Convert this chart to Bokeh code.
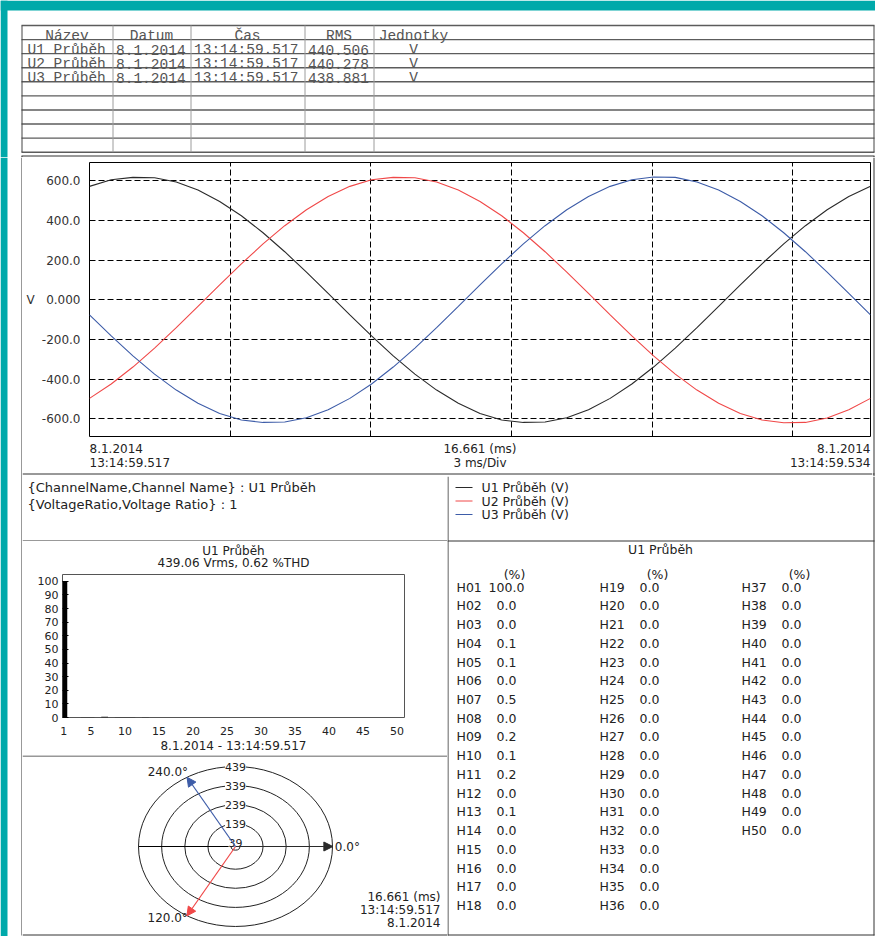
from bokeh.plotting import figure
from bokeh.layouts import row, column
from bokeh.models import Range1d, FixedTicker, Grid, ColumnDataSource, Arrow, NormalHead, LabelSet
from bokeh.core.properties import value
from bokeh.embed import file_html
from bokeh.resources import INLINE
import math

# ---------------- data ----------------
t_ms = [0.000, 0.463, 0.926, 1.388, 1.851, 2.314, 2.777, 3.240, 3.702, 4.165,
        4.628, 5.091, 5.554, 6.017, 6.479, 6.942, 7.405, 7.868, 8.331, 8.793,
        9.256, 9.719, 10.182, 10.645, 11.107, 11.570, 12.033, 12.496, 12.959, 13.421,
        13.884, 14.347, 14.810, 15.273, 15.736, 16.198, 16.661]
u1_v = [572.6, 606.1, 618.0, 616.0, 594.8, 554.2, 496.7, 424.2, 338.7, 243.0,
        140.0, 32.5, -75.8, -181.9, -282.4, -374.3, -454.9, -521.7, -572.6, -606.1,
        -618.0, -616.0, -594.8, -554.2, -496.7, -424.2, -338.7, -243.0, -140.0, -32.5,
        75.8, 181.9, 282.4, 374.3, 454.9, 521.7, 572.6]
u2_v = [-496.7, -424.2, -338.7, -243.0, -140.0, -32.5, 75.8, 181.9, 282.4, 374.3,
        454.9, 521.7, 572.6, 606.1, 618.0, 616.0, 594.8, 554.2, 496.7, 424.2,
        338.7, 243.0, 140.0, 32.5, -75.8, -181.9, -282.4, -374.3, -454.9, -521.7,
        -572.6, -606.1, -620.0, -618.0, -596.0, -554.2, -496.7]
u3_v = [-75.8, -181.9, -282.4, -374.3, -454.9, -521.7, -572.6, -606.1, -618.0, -616.0,
        -594.8, -554.2, -496.7, -424.2, -338.7, -243.0, -140.0, -32.5, 75.8, 181.9,
        282.4, 374.3, 454.9, 521.7, 572.6, 606.1, 620.0, 618.0, 594.8, 554.2,
        496.7, 424.2, 338.7, 243.0, 140.0, 32.5, -75.8]

series_names = ["U1 Průběh", "U2 Průběh", "U3 Průběh"]
series_colors = ["#2a2a2a", "#f04848", "#3d5ca8"]
rec_date = "8.1.2014"
start_time = "13:14:59.517"
end_time = "13:14:59.534"
span_ms = 16.661
div_ms = 3
rms_v = [440.506, 440.278, 438.881]
unit = "V"
table_headers = ["Název", "Datum", "Čas", "RMS", "Jednotky"]
v_ticks = [-600, -400, -200, 0, 200, 400, 600]
v_tick_labels = ["-600.0", "-400.0", "-200.0", "0.000", "200.0", "400.0", "600.0"]

info_lines = ["{ChannelName,Channel Name} : U1 Průběh", "{VoltageRatio,Voltage Ratio} : 1"]

harm_order = list(range(1, 51))
harm_pct = [100.0, 0.0, 0.0, 0.1, 0.1, 0.0, 0.5, 0.0, 0.2, 0.1,
            0.2, 0.0, 0.1, 0.0, 0.0, 0.0, 0.0, 0.0, 0.0, 0.0,
            0.0, 0.0, 0.0, 0.0, 0.0, 0.0, 0.0, 0.0, 0.0, 0.0,
            0.0, 0.0, 0.0, 0.0, 0.0, 0.0, 0.0, 0.0, 0.0, 0.0,
            0.0, 0.0, 0.0, 0.0, 0.0, 0.0, 0.0, 0.0, 0.0, 0.0]
bar_x_ticks = [1, 5, 10, 15, 20, 25, 30, 35, 40, 45, 50]
bar_y_ticks = [0, 10, 20, 30, 40, 50, 60, 70, 80, 90, 100]
u1_vrms = 439.06
u1_thd = 0.62

phasor_deg = [0.0, 120.0, 240.0]
ring_vals = [439, 339, 239, 139, 39]

# ---------------- style ----------------
SANS = "DejaVu Sans"
MONO = "Liberation Mono"
INK = "#222222"
RULE = "#333333"
TEAL = "#00a9aa"
W, H = 875, 936


def no_align(p):
    try:
        p.frame_align = False
    except Exception:
        pass
    return p


def pixfig(x0, x1, y0, y1):
    p = figure(frame_width=x1 - x0, frame_height=y1 - y0,
               x_range=Range1d(x0, x1), y_range=Range1d(y1, y0),
               x_axis_type=None, y_axis_type=None,
               toolbar_location=None, output_backend="svg",
               min_border=0, outline_line_color=None)
    return no_align(p)


def segs(p, xs0, ys0, xs1, ys1, color=RULE, width=1.0, **kw):
    p.segment(x0=xs0, y0=ys0, x1=xs1, y1=ys1, line_color=color, line_width=width, **kw)


def texts(p, xs, ys, labels, size="12px", align="left", baseline="middle",
          font=SANS, color=INK, **kw):
    p.text(x=xs, y=ys, text=labels, text_font=value(font), text_font_size=value(size),
           text_align=align, text_baseline=baseline, text_color=color, **kw)


# ---------------- top table ----------------
tab = pixfig(0, W, 0, 157)
tab.quad(left=[0, 0], right=[W, 7], top=[0, 0], bottom=[10, 157], fill_color=TEAL, line_color=None)
TX0, TX1 = 21, 873
TY0, ROW_H, N_LINES = 25, 14.08, 10
col_left = [21, 112, 190, 304, 373]
row_y = [TY0 + i * ROW_H for i in range(N_LINES)]
segs(tab, [TX0] * N_LINES, row_y, [TX1 + 1] * N_LINES, row_y, color="#5c5c5c", width=1.4)
inner = [c + 0.5 for c in col_left[1:]]
segs(tab, inner, [TY0] * len(inner), inner, [row_y[-1]] * len(inner), color="#9c9c9c", width=1)
segs(tab, [TX0 + 0.5, TX1 + 0.5], [TY0, TY0], [TX0 + 0.5, TX1 + 0.5], [row_y[-1], row_y[-1]],
     color="#444444", width=1)
segs(tab, [TX0], [155.5], [TX1 + 1], [155.5], color=RULE)
segs(tab, [TX0 + 0.5, TX1 + 0.5], [155.5, 155.5], [TX0 + 0.5, TX1 + 0.5], [157, 157], color=RULE)
unit_center = 413
hdr_x = [(col_left[i] + col_left[i + 1]) / 2 for i in range(4)]
texts(tab, hdr_x, [row_y[0] + 10] * 4, table_headers[:4], size="14.5px", align="center",
      baseline="alphabetic", font=MONO, color="#555555")
texts(tab, [unit_center], [row_y[0] + 10], table_headers[4:], size="14.5px", align="center",
      baseline="alphabetic", font=MONO, color="#555555")
for r, name in enumerate(series_names):
    yb = row_y[r + 1] + 10
    cells = [name, rec_date, start_time, f"{rms_v[r]:.3f}"]
    xs = [col_left[0] + 6] + [c + 3.5 for c in col_left[1:4]]
    texts(tab, xs, [yb] * 4, cells, size="14.5px", baseline="alphabetic", font=MONO, color="#555555")
    texts(tab, [unit_center], [yb], [unit], size="14.5px", align="center",
          baseline="alphabetic", font=MONO, color="#555555")

# ---------------- waveform ----------------
WL, WR, WT, WB = 89, 870, 162, 436     # frame edges (page px)
wave = figure(frame_width=WR - WL, frame_height=WB - WT,
              x_range=Range1d(0, span_ms), y_range=Range1d(-689, 693),
              x_axis_type=None, toolbar_location=None, output_backend="svg",
              min_border_left=WL - 22, min_border_right=872 - WR,
              min_border_top=WT - 157, min_border_bottom=437 - WB)
no_align(wave)
wave.outline_line_color = "black"
wave.outline_line_width = 1
ya = wave.yaxis[0]
ya.ticker = FixedTicker(ticks=v_ticks)
ya.major_label_overrides = dict(zip(v_ticks, v_tick_labels))
ya.major_tick_line_color = None
ya.minor_tick_line_color = None
ya.axis_line_color = None
ya.major_label_standoff = 3
ya.major_label_text_font = SANS
ya.major_label_text_font_size = "12px"
ya.major_label_text_color = "#333333"
ya.axis_label = unit
ya.axis_label_standoff = 4
ya.axis_label_text_font = SANS
ya.axis_label_text_font_size = "12px"
ya.axis_label_text_font_style = "normal"
ya.axis_label_text_color = "#333333"
try:
    ya.axis_label_orientation = "horizontal"
except Exception:
    pass
wave.ygrid.ticker = FixedTicker(ticks=v_ticks)
wave.ygrid.grid_line_color = "black"
wave.ygrid.grid_line_dash = "6 3"
wave.ygrid.grid_line_width = 1
grid_x = list(range(div_ms, int(span_ms) + 1, div_ms))
wave.add_layout(Grid(dimension=0, ticker=FixedTicker(ticks=grid_x), grid_line_color="black",
                     grid_line_dash="6 3", grid_line_width=1))
for vals, col in zip([u1_v, u2_v, u3_v], series_colors):
    wave.line(t_ms, vals, line_color=col, line_width=1.1)

wlab = pixfig(22, 872, 437, 476)
L1, L2 = 448, 462
mid = (WL + WR) / 2
texts(wlab, [WL, WL], [L1, L2], [rec_date, start_time])
texts(wlab, [mid, mid], [L1, L2], [f"{span_ms:.3f} (ms)", f"{div_ms} ms/Div"], align="center")
texts(wlab, [WR, WR], [L1, L2], [rec_date, end_time], align="right")
segs(wlab, [22], [473.5], [872], [473.5])

left_strip = pixfig(0, 22, 157, H)
left_strip.quad(left=[0], right=[7], top=[157], bottom=[H], fill_color=TEAL, line_color=None)
segs(left_strip, [21.5], [157], [21.5], [935])
right_strip = pixfig(872, W, 157, 476)
segs(right_strip, [873.5, 872], [157, 473.5], [873.5, 874], [476, 473.5])

# ---------------- info panel ----------------
info = pixfig(22, 447, 476, 541)
texts(info, [27, 27], [487, 503.5], info_lines, size="13px")
segs(info, [22], [540.5], [447], [540.5])

# ---------------- harmonic bar chart ----------------
BL, BR, BT, BB = 62, 404, 574, 717
btitle = pixfig(22, 447, 541, 572)
texts(btitle, [(BL + BR) / 2] * 2, [550, 562],
      [series_names[0], f"{u1_vrms:.2f} Vrms, {u1_thd:.2f} %THD"], align="center")

bar = figure(frame_width=BR - BL, frame_height=BB - BT,
             x_range=Range1d(0.8, 51.1), y_range=Range1d(0, 105),
             toolbar_location=None, output_backend="svg",
             min_border_left=BL - 22, min_border_right=447 - BR,
             min_border_top=BT - 572, min_border_bottom=755 - BB)
no_align(bar)
bar.vbar(x=harm_order, top=harm_pct, width=1.0, fill_color="black", line_color=None)
bar.grid.visible = False
bar.outline_line_color = "#555555"
xa = bar.xaxis[0]
xa.ticker = FixedTicker(ticks=bar_x_ticks)
xa.major_tick_line_color = None
xa.minor_tick_line_color = None
xa.axis_line_color = None
xa.major_label_standoff = 3
xa.major_label_text_font = SANS
xa.major_label_text_font_size = "11px"
xa.major_label_text_color = INK
xa.axis_label = f"{rec_date} - {start_time}"
xa.axis_label_standoff = 1
xa.axis_label_text_font = SANS
xa.axis_label_text_font_size = "12px"
xa.axis_label_text_font_style = "normal"
xa.axis_label_text_color = INK
yb = bar.yaxis[0]
yb.ticker = FixedTicker(ticks=bar_y_ticks)
yb.major_tick_in = 6
yb.major_tick_out = 0
yb.major_tick_line_color = "black"
yb.minor_tick_line_color = None
yb.axis_line_color = None
yb.major_label_standoff = 4
yb.major_label_text_font = SANS
yb.major_label_text_font_size = "11px"
yb.major_label_text_color = INK

# ---------------- phasor diagram ----------------
PCX, PCY = 235, 846       # centre (page px)
RX_PX, RY_PX = 97, 80     # outer ring radii (px)
R0 = 20                   # radial offset of the scale
r_out = ring_vals[0] - R0
kx = r_out / RX_PX
ky = r_out / RY_PX
pol = figure(frame_width=447 - 22, frame_height=H - 755,
             x_range=Range1d((22 - PCX) * kx, (447 - PCX) * kx),
             y_range=Range1d((PCY - H) * ky, (PCY - 755) * ky),
             x_axis_type=None, y_axis_type=None, toolbar_location=None, output_backend="svg",
             min_border=0, outline_line_color=None)
no_align(pol)
pol.extra_x_ranges = {"px": Range1d(22, 447)}
pol.extra_y_ranges = {"py": Range1d(H, 755)}
segs(pol, [22, 22], [755.5, 934.5], [447, 447], [755.5, 934.5], x_range_name="px", y_range_name="py")
radii = [v - R0 for v in ring_vals]
pol.ellipse(x=[0] * len(radii), y=[0] * len(radii), width=[2 * r for r in radii],
            height=[2 * r for r in radii], fill_color=None, line_color="#222222", line_width=1)
pol.segment(x0=[-r_out], y0=[0], x1=[0], y1=[0], line_color="black", line_width=1)
ring_src = ColumnDataSource(dict(x=[0] * len(radii), y=radii, t=[str(v) for v in ring_vals]))
pol.add_layout(LabelSet(x="x", y="y", text="t", source=ring_src, text_align="center",
                        text_baseline="middle", text_font=value(SANS), text_font_size=value("11px"),
                        text_color=INK, background_fill_color="white"))
for mag, ang, col in zip(rms_v, phasor_deg, series_colors):
    a = math.radians(ang)
    xe = (mag - R0) * math.cos(a)
    ye = -(mag - R0) * math.sin(a)
    pol.add_layout(Arrow(x_start=0, y_start=0, x_end=xe, y_end=ye, line_color=col, line_width=1.2,
                         end=NormalHead(size=9, fill_color=col, line_color=col)))
    lab = f"{ang:.1f}°"
    if abs(math.cos(a)) > 0.9:
        texts(pol, [xe], [ye], [lab], align="left", x_offset=2)
    elif ye > 0:
        texts(pol, [xe], [ye], [lab], align="right", baseline="bottom", x_offset=1, y_offset=2)
    else:
        texts(pol, [xe], [ye], [lab], align="right", baseline="middle", x_offset=1, y_offset=2)
texts(pol, [440] * 3, [896, 909, 922], [f"{span_ms:.3f} (ms)", start_time, rec_date],
      align="right", x_range_name="px", y_range_name="py")

# ---------------- legend + harmonic table ----------------
rt = pixfig(447, W, 476, H)
segs(rt, [447.5, 873.5, 447, 447], [476, 476, 540.5, 934.5], [447.5, 873.5, 874, 874],
     [935, 935, 540.5, 934.5])
leg_y = [487, 500.5, 514]
for yy, col in zip(leg_y, series_colors):
    segs(rt, [455], [yy], [472], [yy], color=col, width=1)
texts(rt, [481] * 3, leg_y, [f"{n} ({unit})" for n in series_names], size="12.5px")
texts(rt, [660], [549], [series_names[0]], size="12.5px", align="center")
col_x = [456, 599, 741]
ROWS = 18
H_Y0, H_DY = 586.7, 18.72
texts(rt, [c + 58 for c in col_x], [574] * 3, ["(%)"] * 3, size="12.5px", align="center")
hx, hy, hn, vx, vt = [], [], [], [], []
for i, (n, v) in enumerate(zip(harm_order, harm_pct)):
    c, r = divmod(i, ROWS)
    hx.append(col_x[c])
    hy.append(H_Y0 + r * H_DY)
    hn.append(f"H{n:02d}")
    vx.append(col_x[c] + 50)
    vt.append(f"{v:.1f}")
texts(rt, hx, hy, hn, size="12.5px")
texts(rt, vx, hy, vt, size="12.5px", align="center")

# ---------------- layout ----------------
wave_row = row(column(wave, wlab), right_strip)
left_col = column(info, btitle, bar, pol)
lower_row = row(left_col, rt)
main_col = column(wave_row, lower_row)
root = column(tab, row(left_strip, main_col))

open("out.html", "w").write(file_html(root, INLINE))
